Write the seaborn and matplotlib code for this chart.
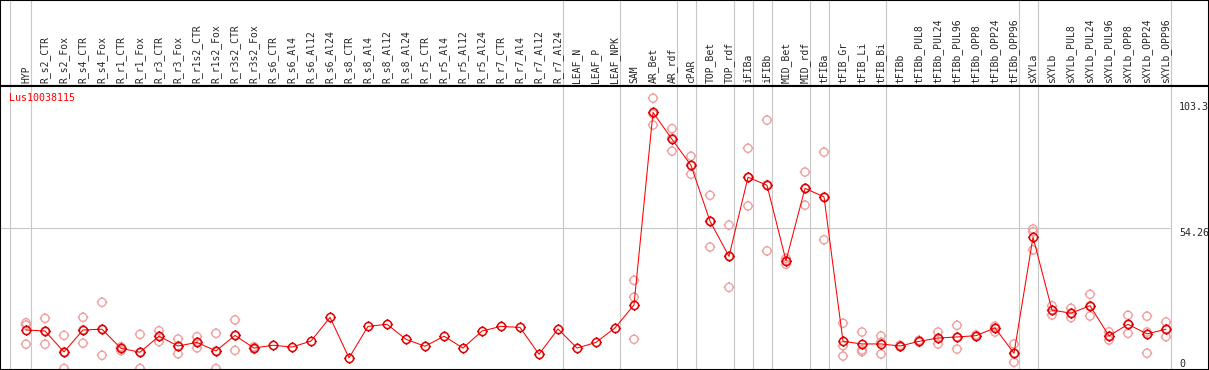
import matplotlib
matplotlib.use("Agg")
import matplotlib.pyplot as plt
from matplotlib.path import Path
import seaborn as sns
import pandas as pd
import numpy as np

OUTPUT_FILE = "out.png"

sns.set_style("white")
plt.rcParams["font.family"] = ["DejaVu Sans Mono", "DejaVu Sans"]

GENE = "Lus10038115"

samples = [
    "HYP", "R_s2_CTR", "R_s2_Fox", "R_s4_CTR", "R_s4_Fox", "R_r1_CTR", "R_r1_Fox",
    "R_r3_CTR", "R_r3_Fox", "R_r1s2_CTR", "R_r1s2_Fox", "R_r3s2_CTR", "R_r3s2_Fox",
    "R_s6_CTR", "R_s6_Al4", "R_s6_Al12", "R_s6_Al24", "R_s8_CTR", "R_s8_Al4",
    "R_s8_Al12", "R_s8_Al24", "R_r5_CTR", "R_r5_Al4", "R_r5_Al12", "R_r5_Al24",
    "R_r7_CTR", "R_r7_Al4", "R_r7_Al12", "R_r7_Al24", "LEAF_N", "LEAF_P", "LEAF_NPK",
    "SAM", "AR_Bet", "AR_rdf", "cPAR", "TOP_Bet", "TOP_rdf", "iFIBa", "iFIBb",
    "MID_Bet", "MID_rdf", "tFIBa", "tFIB_Gr", "tFIB_Li", "tFIB_Bi", "tFIBb",
    "tFIBb_PUL8", "tFIBb_PUL24", "tFIBb_PUL96", "tFIBb_OPP8", "tFIBb_OPP24", "tFIBb_OPP96",
    "sXYLa", "sXYLb", "sXYLb_PUL8", "sXYLb_PUL24", "sXYLb_PUL96", "sXYLb_OPP8",
    "sXYLb_OPP24", "sXYLb_OPP96",
]

# number of samples in each group (separator lines after each group)
group_sizes = [1, 28, 3, 3, 1, 2, 1, 1, 2, 1, 3, 7, 1, 7]

# mean expression per sample
means = [
    14.9, 14.5, 6.4, 14.9, 15.2, 7.8, 6.3, 12.5, 8.7, 10.1, 6.8, 12.8, 7.9,
    9.0, 8.3, 10.6, 19.8, 4.1, 16.3, 17.1, 11.3, 8.6, 12.5, 7.9, 14.5, 16.3,
    15.9, 5.5, 15.3, 7.9, 10.1, 15.7,
    24.6, 99.1, 88.7, 78.6, 57.0, 43.4, 74.0, 70.9, 41.7, 69.7, 66.4,
    10.5, 9.5, 9.5, 8.7, 10.5, 11.8, 12.2, 12.7, 15.7, 5.9,
    50.8, 22.6, 21.4, 24.3, 12.6, 17.1, 13.4, 15.2,
]

# individual replicates per sample
replicates = [
    [17.7, 16.8, 9.4], [19.4, 14.5, 9.4], [12.8, 6.4, 0.0], [19.8, 14.9, 9.8],
    [25.6, 15.2, 5.1], [8.4, 7.8, 6.9], [13.2, 6.3, 0.0], [14.6, 12.5, 10.4],
    [11.4, 8.7, 5.7], [12.3, 10.1, 8.0], [13.6, 6.8, 0.0], [18.8, 12.8, 7.0],
    [8.4, 7.9, 7.5],
    [], [], [], [], [], [], [], [], [], [], [], [], [], [], [], [], [], [], [],
    [34.1, 27.6, 11.3], [104.6, 98.5, 94.2], [92.8, 89.2, 84.1], [82.1, 78.6, 75.2],
    [67.0, 57.0, 47.0], [55.5, 43.4, 31.4], [85.2, 74.0, 62.9], [96.1, 71.1, 45.5],
    [42.6, 41.7, 40.3], [76.0, 69.7, 63.2], [83.7, 66.4, 49.8],
    [17.5, 8.8, 4.8], [14.1, 7.2, 6.5], [12.6, 10.2, 5.6], [9.0, 8.7, 8.4],
    [10.9, 10.5, 10.2], [14.1, 11.8, 9.5], [16.7, 12.2, 7.5], [13.0, 12.7, 12.4],
    [16.4, 15.7, 14.1], [9.5, 5.9, 2.4],
    [54.0, 52.9, 45.9], [24.3, 22.6, 20.7], [23.3, 21.4, 19.7], [28.7, 24.3, 20.3],
    [14.2, 12.6, 11.0], [20.6, 17.1, 13.6], [20.2, 14.1, 5.9], [18.0, 15.2, 12.3],
]

scale_labels = ["0", "54.26", "103.3"]
scale_values = [0, 54.26, 103.3]

pos = np.arange(len(samples))
mean_df = pd.DataFrame({"pos": pos, "value": means})
rep_df = pd.DataFrame({
    "pos": np.repeat(pos, [len(r) for r in replicates]),
    "value": [v for r in replicates for v in r],
})

# ring marker (polygonal circle) with small ticks at the four compass points
ang = np.linspace(0, 2 * np.pi, 25)
circle = Path(np.column_stack([np.cos(ang), np.sin(ang)]), closed=True)
ring = Path.make_compound_path(
    circle,
    Path([(0, 1), (0, 1.3), (0, -1), (0, -1.3), (1, 0), (1.3, 0), (-1, 0), (-1.3, 0)],
         [Path.MOVETO, Path.LINETO] * 4),
)

W, H = 1209, 370
head_px = 86
fig = plt.figure(figsize=(W / 100, H / 100), dpi=100)
ax_head = fig.add_axes([0, (H - head_px) / H, 1, head_px / H])
ax = fig.add_axes([0, 0, 1, (H - head_px) / H])

xlim = (-26 / 19, (W - 26) / 19)
for a in (ax_head, ax):
    a.set_xlim(*xlim)
    a.set_xticks([])
    a.set_yticks([])
    for s in a.spines.values():
        s.set_color("black")
        s.set_linewidth(1.5)
ax_head.set_ylim(0, 1)
ax.set_ylim(-0.58, 109.3)

# group separators
seps = [-0.84] + list(np.cumsum(group_sizes) - 1 + 0.26)
for a in (ax_head, ax):
    for sx in seps:
        a.axvline(sx, color="#c8c8c8", lw=0.8, zorder=0)
ax.hlines(54.26, xlim[0], seps[-1], color="#c8c8c8", lw=0.8, zorder=0)

# sample labels
for p, name in zip(pos, samples):
    ax_head.text(p, 0.035, name, rotation=90, ha="center", va="bottom", fontsize=7)

# replicates and means
sns.scatterplot(data=rep_df, x="pos", y="value", marker=ring, s=58,
                color="#f0a0a0", facecolor="none", edgecolor="#f0a0a0",
                linewidth=1.0, ax=ax, zorder=2, legend=False)
sns.lineplot(data=mean_df, x="pos", y="value", color="red", lw=0.75,
             marker=ring, markersize=7.6, markerfacecolor="none",
             markeredgecolor="#e00000", markeredgewidth=1.1, ax=ax, zorder=3,
             sort=False)
ax.set_xlabel("")
ax.set_ylabel("")

# value scale on the right
for lab, v in zip(scale_labels, scale_values):
    ax.text((1179 - 26) / 19, v, lab, ha="left",
            va="bottom" if v == 0 else "top", fontsize=7.2)

ax.text(9 / W, 1 - 7 / (H - head_px), GENE, transform=ax.transAxes,
        color="red", fontsize=7.2, ha="left", va="top")

plt.savefig(OUTPUT_FILE, dpi=100)
plt.close()
